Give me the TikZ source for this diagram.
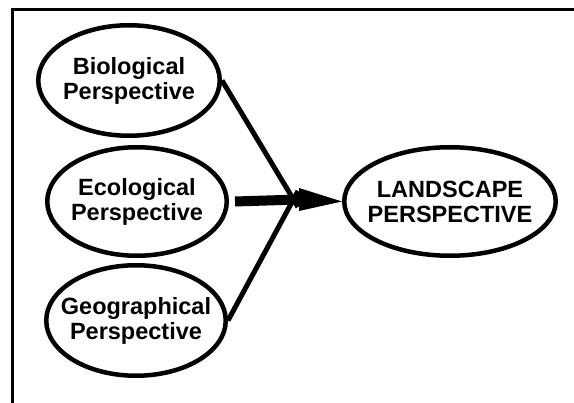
\documentclass[tikz,border=0pt]{standalone}
\usepackage{fontspec}
\setmainfont{Liberation Sans}
\usetikzlibrary{shapes.geometric}
\begin{document}
\begin{tikzpicture}[x=1pt,y=-1pt,
  oval/.style={draw=black, line width=4.5pt, ellipse, inner sep=0pt},
  txt/.style={align=center, font=\fontsize{23.5}{25}\selectfont\bfseries, inner sep=0pt},
  conn/.style={line width=5pt, black}
]
\useasboundingbox (0,0) rectangle (574,403);
% frame (top and left edges)
\coordinate (fa) at (574,9.5);
\coordinate (fb) at (12.5,9.5);
\coordinate (fc) at (12.5,403);
\draw[line width=2.5pt] (fa) -- (fb) -- (fc);

\node[oval, minimum width=181.5pt, minimum height=110.5pt,
  label={[txt]center:Biological\\Perspective}] (bio) at (129,80.5) {};
\node[oval, minimum width=179.5pt, minimum height=108.5pt,
  label={[txt]center:Ecological\\Perspective}] (eco) at (137,201.5) {};
\node[oval, minimum width=179.5pt, minimum height=110.5pt,
  label={[txt]center:Geographical\\Perspective}] (geo) at (136,320.5) {};
\node[oval, minimum width=211.5pt, minimum height=108.5pt,
  label={[txt]center:LANDSCAPE\\PERSPECTIVE}] (land) at (450,201.5) {};

\coordinate (J) at (299,199.5);
\draw[line width=10pt] ([xshift=6pt]eco.east) -- (J);
\draw[conn] (bio.east) -- ([shift={(-1pt,-7.5pt)}]J);
\draw[conn] (geo.east) -- ([shift={(-1pt,8.5pt)}]J);
\fill ([yshift=-11.5pt]J) -- (land.west) -- ([yshift=11.5pt]J) -- cycle;
\end{tikzpicture}
\end{document}
